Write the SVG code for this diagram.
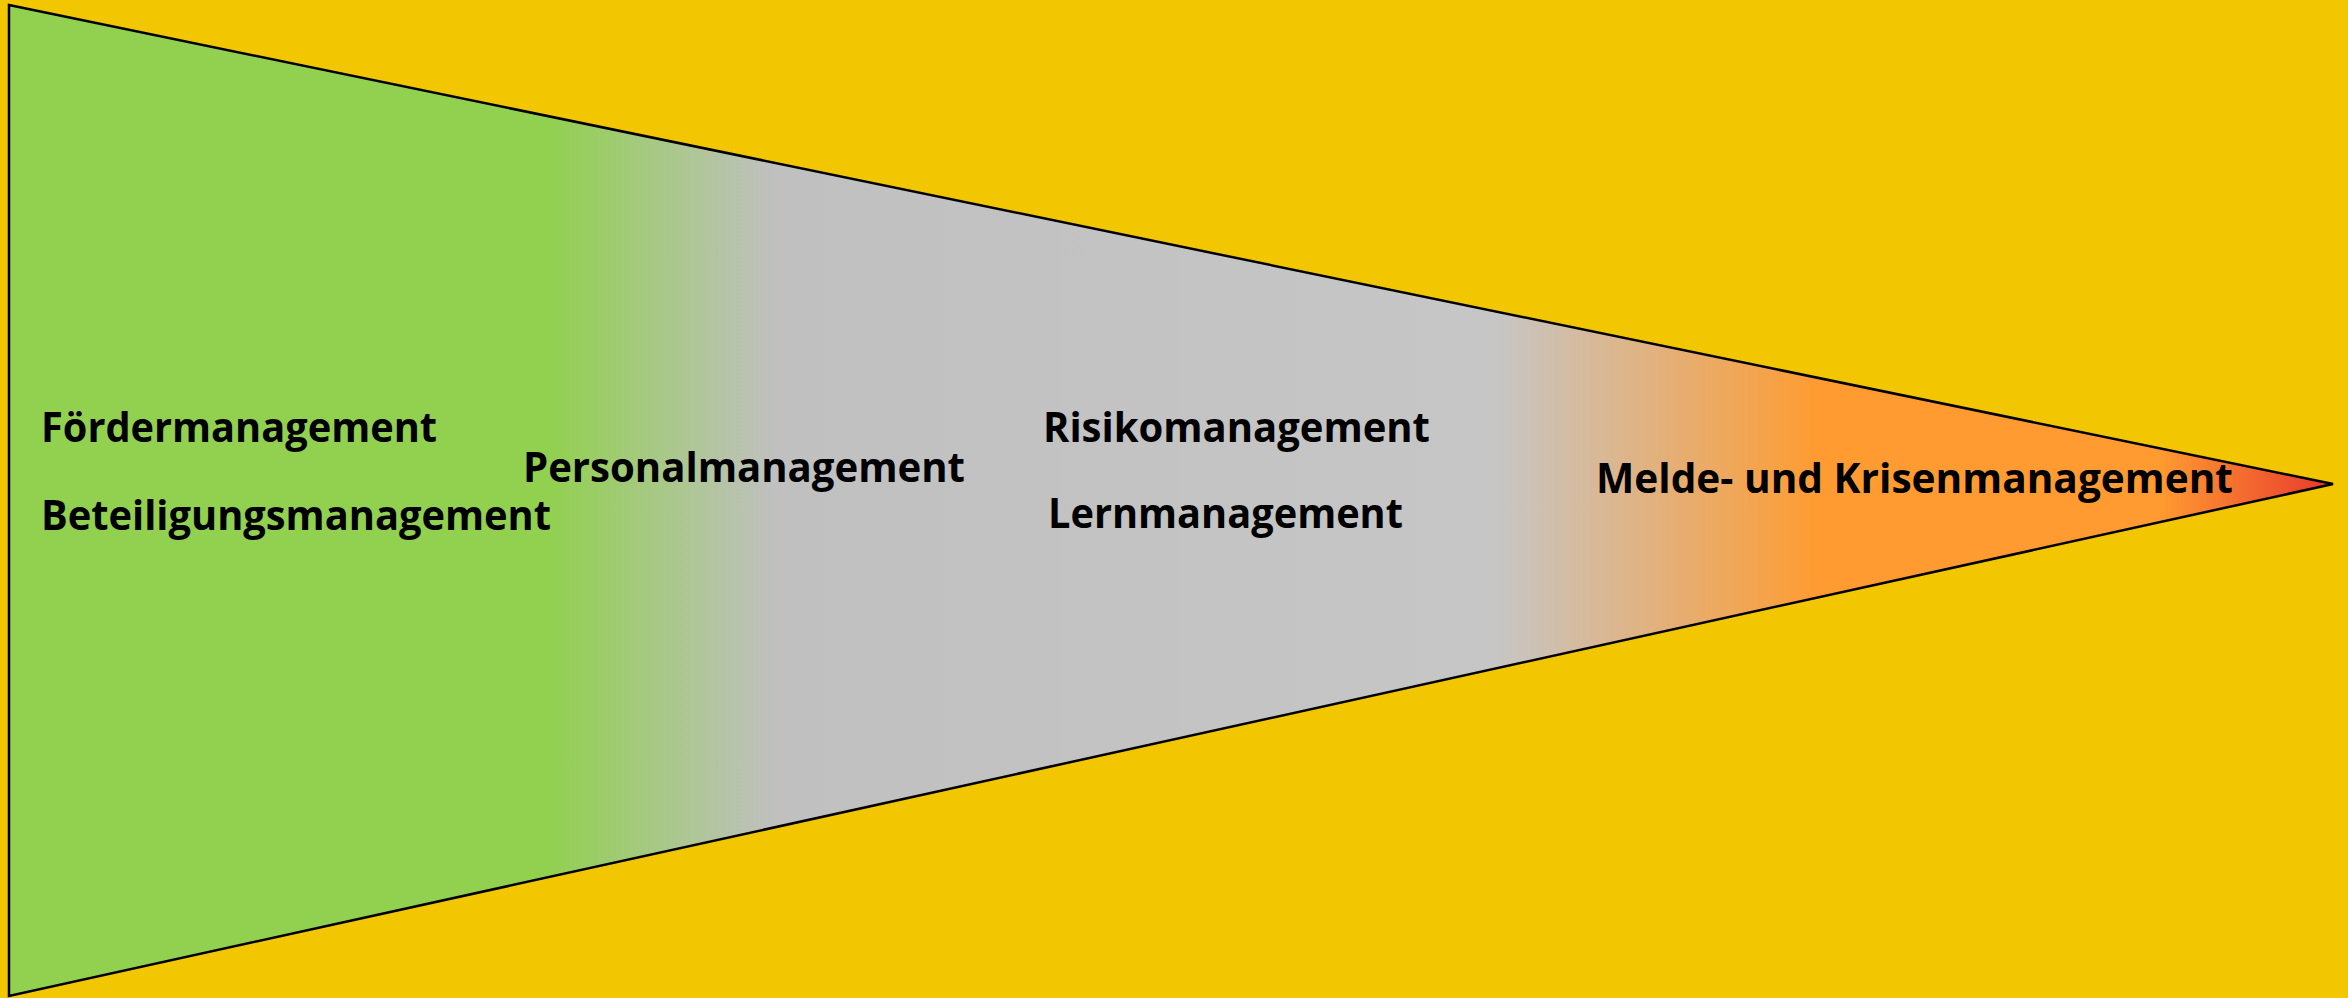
<svg xmlns="http://www.w3.org/2000/svg" width="2348" height="998" viewBox="0 0 2348 998">
<defs>
<linearGradient id="g" gradientUnits="userSpaceOnUse" x1="9" y1="0" x2="2333" y2="0">
<stop offset="0" stop-color="#92D050"/>
<stop offset="0.233" stop-color="#92D050"/>
<stop offset="0.33" stop-color="#C0C0C0"/>
<stop offset="0.64" stop-color="#C6C6C6"/>
<stop offset="0.78" stop-color="#FF9B30"/>
<stop offset="0.925" stop-color="#FF9B30"/>
<stop offset="1" stop-color="#E8382E"/>
</linearGradient>
<style>
.t{font-family:"Open Sans","Liberation Sans",sans-serif;font-weight:bold;font-size:41px;fill:#000}
</style>
</defs>
<rect width="2348" height="998" fill="#F2C600"/>
<g id="wedge">
<polygon points="9,5 2333,484 9,996" fill="url(#g)" stroke="#000" stroke-width="2.5" stroke-linejoin="miter"/>
</g>
<g id="labels">
<g id="foerder"><text class="t" x="41" y="442" textLength="396" lengthAdjust="spacingAndGlyphs">Fördermanagement</text></g>
<g id="beteiligung"><text class="t" x="41" y="530" textLength="510" lengthAdjust="spacingAndGlyphs">Beteiligungsmanagement</text></g>
<g id="personal"><text class="t" x="523" y="482" textLength="442" lengthAdjust="spacingAndGlyphs">Personalmanagement</text></g>
<g id="risiko"><text class="t" x="1043" y="442" textLength="387" lengthAdjust="spacingAndGlyphs">Risikomanagement</text></g>
<g id="lern"><text class="t" x="1048" y="528" textLength="355" lengthAdjust="spacingAndGlyphs">Lernmanagement</text></g>
<g id="melde"><text class="t" x="1596" y="493" textLength="637" lengthAdjust="spacingAndGlyphs">Melde- und Krisenmanagement</text></g>
</g>
<g id="connectors"/>
</svg>
